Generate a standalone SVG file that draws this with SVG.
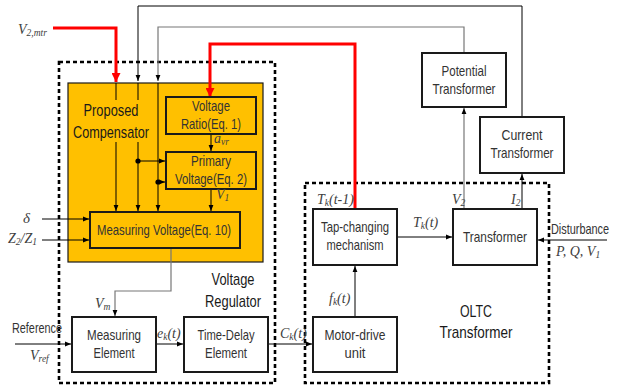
<svg xmlns="http://www.w3.org/2000/svg" width="618" height="389" viewBox="0 0 618 389">
<defs>
<style>
.box{fill:#fff;stroke:#1a1a1a;stroke-width:2}
.obox{fill:#FFC000;stroke:#1a1a1a;stroke-width:2}
.dash{fill:none;stroke:#000;stroke-width:2.6;stroke-dasharray:4 3}
.ln{fill:none;stroke:#000;stroke-width:1}
.gln{fill:none;stroke:#777;stroke-width:1.2}
.red{fill:none;stroke:#FF0000;stroke-width:3}
.t{font-family:"Liberation Sans",Arial,sans-serif;font-size:14.5px;fill:#333;text-anchor:middle}
.big{font-family:"Liberation Sans",Arial,sans-serif;font-size:17px;fill:#1a1a1a;text-anchor:middle}
.it{font-family:"Liberation Serif","Times New Roman",serif;font-style:italic;font-size:14px;fill:#404040}
.sub{font-size:9.5px}
</style>
<marker id="a" viewBox="0 0 10 10" refX="10" refY="5" markerWidth="6" markerHeight="6" markerUnits="userSpaceOnUse" orient="auto"><path d="M0,1 L10,5 L0,9 z" fill="#000"/></marker>
<marker id="ra" viewBox="0 0 10 10" refX="10" refY="5" markerWidth="11" markerHeight="9" markerUnits="userSpaceOnUse" orient="auto"><path d="M0,0 L10,5 L0,10 z" fill="#FF0000"/></marker>
</defs>
<rect width="618" height="389" fill="#fff"/>

<!-- containers -->
<g id="voltage-regulator">
<rect class="dash" x="59" y="62" width="216" height="321"/>
<text class="big" x="233" y="285" textLength="43" lengthAdjust="spacingAndGlyphs">Voltage</text>
<text class="big" x="233" y="307" textLength="56" lengthAdjust="spacingAndGlyphs">Regulator</text>
</g>
<g id="oltc-transformer">
<rect class="dash" x="305" y="183" width="244" height="200"/>
<text class="big" x="476" y="317" textLength="32" lengthAdjust="spacingAndGlyphs">OLTC</text>
<text class="big" x="476" y="338" textLength="73" lengthAdjust="spacingAndGlyphs">Transformer</text>
</g>
<g id="proposed-compensator">
<rect x="68" y="83" width="195" height="179" fill="#FFC000" stroke="#1a1a1a" stroke-width="1.2"/>
<text class="big" x="111" y="116" textLength="55" lengthAdjust="spacingAndGlyphs">Proposed</text>
<text class="big" x="111" y="138" textLength="76" lengthAdjust="spacingAndGlyphs">Compensator</text>
</g>

<!-- connectors -->
<g id="connectors">
<path class="ln" d="M522,117 V6 H138 V81" marker-end="url(#a)"/>
<path class="gln" d="M464,53 V27 H158 V81" marker-end="url(#a)"/>
<path class="red" d="M53,28 H116 V82" marker-end="url(#ra)"/>
<path class="red" d="M355,209 V44 H210 V97" marker-end="url(#ra)"/>
<path class="ln" d="M116,83 V100"/>
<path class="ln" d="M116,142 V211" marker-end="url(#a)"/>
<path class="ln" d="M138,83 V100"/>
<path class="ln" d="M138,142 V211" marker-end="url(#a)"/>
<path class="ln" d="M158,83 V211" marker-end="url(#a)"/>
<circle cx="138" cy="161" r="2.6" fill="#000"/>
<path class="ln" d="M138,161 H165" marker-end="url(#a)"/>
<circle cx="158" cy="182" r="2.6" fill="#000"/>
<path class="ln" d="M158,182 H165" marker-end="url(#a)"/>
<path class="ln" d="M211,134 V151" marker-end="url(#a)"/>
<path class="ln" d="M211,189 V211" marker-end="url(#a)"/>
<path class="ln" d="M42,219 H89" marker-end="url(#a)"/>
<path class="ln" d="M42,240 H89" marker-end="url(#a)"/>
<path class="gln" d="M171,248 V291 H115 V316" marker-end="url(#a)"/>
<path class="ln" d="M15,344 H71" marker-end="url(#a)"/>
<path class="ln" d="M156,344 H183" marker-end="url(#a)"/>
<path class="ln" d="M268,344 H312" marker-end="url(#a)"/>
<path class="ln" d="M355,317 V266" marker-end="url(#a)"/>
<path class="ln" d="M397,237 H452" marker-end="url(#a)"/>
<path class="gln" d="M464,209 V108" marker-end="url(#a)"/>
<path class="ln" d="M522,209 V174" marker-end="url(#a)"/>
<path class="ln" d="M607,240 H538" marker-end="url(#a)"/>
</g>

<!-- nodes -->
<g id="voltage-ratio">
<rect class="obox" x="166" y="97" width="90" height="37"/>
<text class="t" x="211" y="111" textLength="38" lengthAdjust="spacingAndGlyphs">Voltage</text>
<text class="t" x="211" y="129" textLength="60" lengthAdjust="spacingAndGlyphs">Ratio(Eq. 1)</text>
</g>
<g id="primary-voltage">
<rect class="obox" x="166" y="152" width="90" height="37"/>
<text class="t" x="211" y="166" textLength="40" lengthAdjust="spacingAndGlyphs">Primary</text>
<text class="t" x="211" y="184" textLength="72" lengthAdjust="spacingAndGlyphs">Voltage(Eq. 2)</text>
</g>
<g id="measuring-voltage">
<rect class="obox" x="90" y="212" width="150" height="36"/>
<text class="t" x="164" y="235" textLength="134" lengthAdjust="spacingAndGlyphs">Measuring Voltage(Eq. 10)</text>
</g>
<g id="measuring-element">
<rect class="box" x="72" y="317" width="84" height="55"/>
<text class="t" x="114" y="340" textLength="54" lengthAdjust="spacingAndGlyphs">Measuring</text>
<text class="t" x="114" y="358" textLength="41" lengthAdjust="spacingAndGlyphs">Element</text>
</g>
<g id="time-delay-element">
<rect class="box" x="184" y="317" width="84" height="55"/>
<text class="t" x="226" y="340" textLength="57" lengthAdjust="spacingAndGlyphs">Time-Delay</text>
<text class="t" x="226" y="358" textLength="42" lengthAdjust="spacingAndGlyphs">Element</text>
</g>
<g id="tap-changing-mechanism">
<rect class="box" x="313" y="209" width="84" height="56"/>
<text class="t" x="355" y="232" textLength="68" lengthAdjust="spacingAndGlyphs">Tap-changing</text>
<text class="t" x="355" y="250" textLength="57" lengthAdjust="spacingAndGlyphs">mechanism</text>
</g>
<g id="transformer">
<rect class="box" x="453" y="209" width="84" height="56"/>
<text class="t" x="495" y="242" textLength="64" lengthAdjust="spacingAndGlyphs">Transformer</text>
</g>
<g id="motor-drive-unit">
<rect class="box" x="313" y="317" width="84" height="55"/>
<text class="t" x="355" y="340" textLength="61" lengthAdjust="spacingAndGlyphs">Motor-drive</text>
<text class="t" x="355" y="358" textLength="21" lengthAdjust="spacingAndGlyphs">unit</text>
</g>
<g id="potential-transformer">
<rect class="box" x="422" y="53" width="84" height="54"/>
<text class="t" x="464" y="76" textLength="45" lengthAdjust="spacingAndGlyphs">Potential</text>
<text class="t" x="464" y="94" textLength="63" lengthAdjust="spacingAndGlyphs">Transformer</text>
</g>
<g id="current-transformer">
<rect class="box" x="480" y="117" width="84" height="56"/>
<text class="t" x="522" y="140" textLength="41" lengthAdjust="spacingAndGlyphs">Current</text>
<text class="t" x="522" y="158" textLength="63" lengthAdjust="spacingAndGlyphs">Transformer</text>
</g>

<!-- labels -->
<g id="labels">
<text class="it" x="18" y="34">V<tspan class="sub" dy="2">2,mtr</tspan></text>
<text class="it" x="214" y="143">a<tspan class="sub" dy="2">vr</tspan></text>
<text class="it" x="216" y="199">V<tspan class="sub" dy="2">1</tspan></text>
<text class="it" x="23" y="223" style="font-size:15px">δ</text>
<text class="it" x="8" y="243">Z<tspan class="sub" dy="2">2</tspan><tspan dy="-2">/Z</tspan><tspan class="sub" dy="2">1</tspan></text>
<text class="it" x="95" y="308">V<tspan class="sub" dy="2">m</tspan></text>
<text class="t" x="37" y="333" style="font-size:14px" textLength="50" lengthAdjust="spacingAndGlyphs">Reference</text>
<text class="it" x="30" y="360">V<tspan class="sub" dy="2">ref</tspan></text>
<text class="it" x="157" y="338">e<tspan class="sub" dy="2">k</tspan><tspan dy="-2">(t)</tspan></text>
<text class="it" x="280" y="338">C<tspan class="sub" dy="2">k</tspan><tspan dy="-2">(t)</tspan></text>
<text class="it" x="317" y="204">T<tspan class="sub" dy="2">k</tspan><tspan dy="-2">(t-1)</tspan></text>
<text class="it" x="413" y="227">T<tspan class="sub" dy="2">k</tspan><tspan dy="-2">(t)</tspan></text>
<text class="it" x="452" y="204">V<tspan class="sub" dy="2">2</tspan></text>
<text class="it" x="511" y="204">I<tspan class="sub" dy="2">2</tspan></text>
<text class="it" x="329" y="303">f<tspan class="sub" dy="2">k</tspan><tspan dy="-2">(t)</tspan></text>
<text class="t" transform="translate(580,234) scale(0.78,1)" x="0" y="0" style="font-size:14px">Disturbance</text>
<text class="it" x="556" y="256">P, Q, V<tspan class="sub" dy="2">1</tspan></text>
</g>
</svg>
